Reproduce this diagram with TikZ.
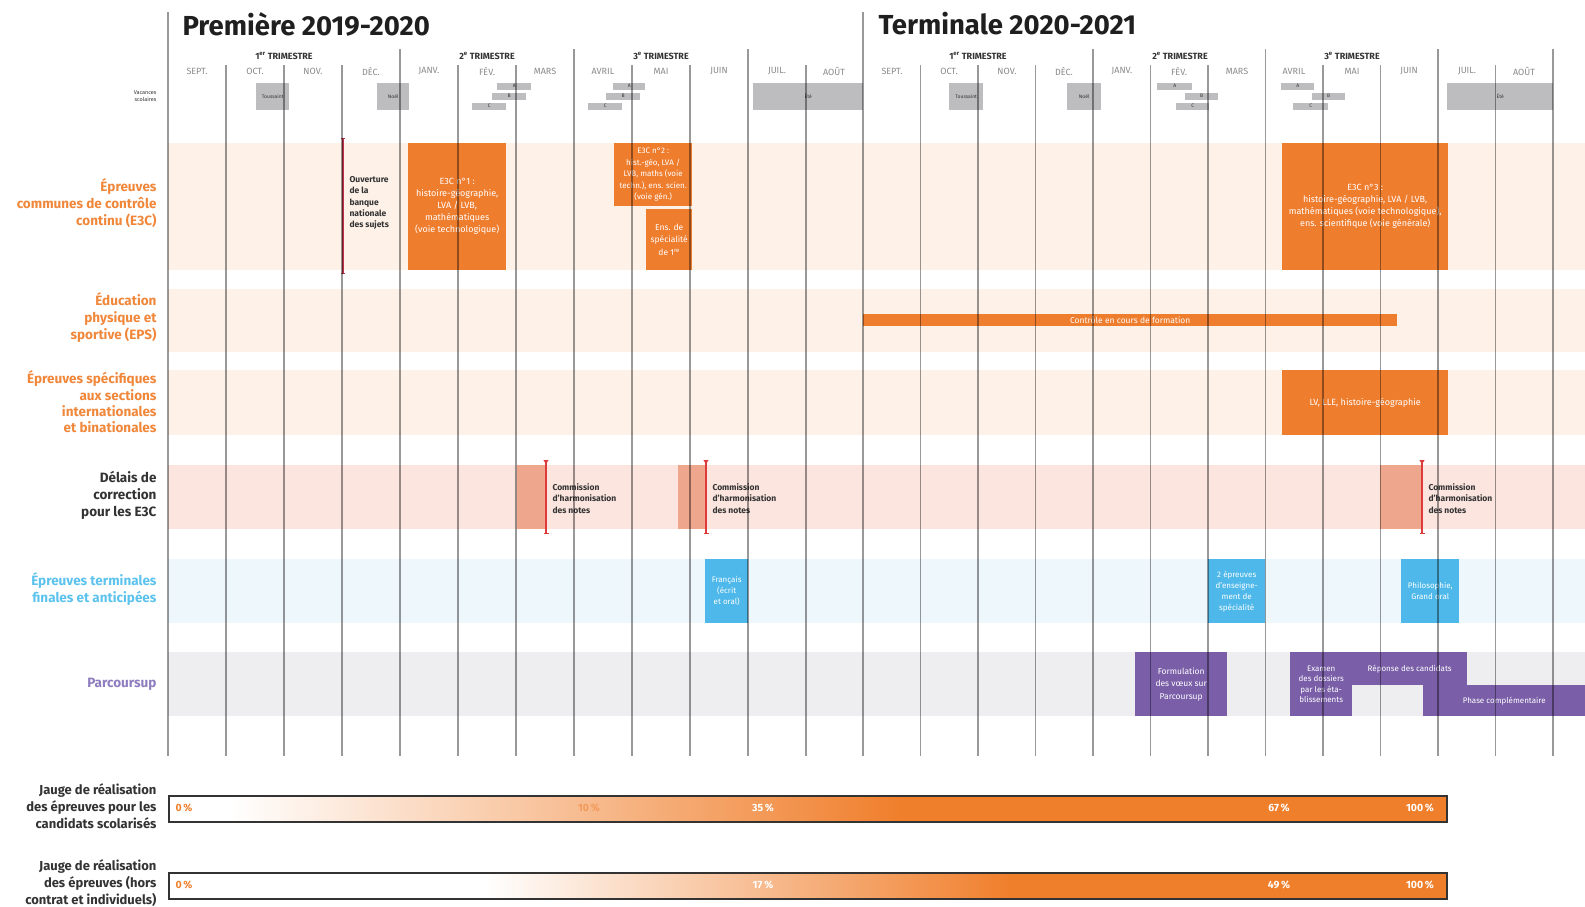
\documentclass[tikz,border=0pt]{standalone}
\usepackage{fontspec}
\setmainfont{Fira Sans}
\usetikzlibrary{arrows.meta}
\definecolor{orng}{HTML}{EF7D2E}
\definecolor{orlab}{HTML}{F0873A}
\definecolor{peach}{HTML}{FDF1E8}
\definecolor{salmonband}{HTML}{FBE5DE}
\definecolor{salmon}{HTML}{EEA68D}
\definecolor{blueband}{HTML}{EEF7FC}
\definecolor{bluebox}{HTML}{4DB8E9}
\definecolor{bluelab}{HTML}{5CC3EE}
\definecolor{grayband}{HTML}{EEEEF1}
\definecolor{purp}{HTML}{7A5FA8}
\definecolor{purplab}{HTML}{8E7DBF}
\definecolor{vacgray}{HTML}{BDBDC0}
\definecolor{redl}{HTML}{DD3B3B}
\definecolor{redd}{HTML}{B83349}
\definecolor{darktxt}{HTML}{333333}
\definecolor{monthgray}{HTML}{8A8A8A}
\definecolor{gaugeor}{HTML}{F07F2C}
\definecolor{gaugelt}{HTML}{F39A5A}
\begin{document}
\begin{tikzpicture}[x=1pt,y=-1pt,
  vline/.style={draw=black,opacity=0.4,line width=1.3pt},
  rowlab/.style={anchor=east,align=right,font=\bfseries\fontsize{13.5}{17}\selectfont},
  title/.style={anchor=west,text=black!88,font=\bfseries\fontsize{27.5}{30}\selectfont},
  trim/.style={text=darktxt,font=\bfseries\fontsize{9}{10}\selectfont},
  month/.style={text=monthgray,font=\fontsize{9}{10}\selectfont},
  vac/.style={fill=vacgray,inner sep=0pt,anchor=north west,text=darktxt,font=\fontsize{5}{6}\selectfont},
  abox/.style={inner sep=0pt,anchor=north west,align=center,text=white,font=\fontsize{9}{12}\selectfont},
  obox/.style={abox,fill=orng},
  bbox/.style={abox,fill=bluebox,font=\fontsize{8}{11}\selectfont},
  pbox/.style={abox,fill=purp,font=\fontsize{8}{10.5}\selectfont},
  note/.style={anchor=west,align=left,text=darktxt,font=\bfseries\fontsize{8.5}{11.2}\selectfont},
  pct/.style={text=white,font=\bfseries\fontsize{10.5}{12}\selectfont},
  gauge/.style={draw=black!80,line width=1.8pt,inner sep=0pt,anchor=north west,minimum width=1278pt,minimum height=26pt}
]
\useasboundingbox (0,0) rectangle (1585,906);
\fill[white] (0,0) rectangle (1585,906);

% bands
\fill[peach] (168,143) rectangle (1585,270);
\fill[peach] (168,289) rectangle (1585,352);
\fill[peach] (168,370) rectangle (1585,435);
\fill[salmonband] (168,465) rectangle (1585,529);
\fill[blueband] (168,559) rectangle (1585,623);
\fill[grayband] (168,652) rectangle (1585,716);

% titles
\node[title] (t1) at (179,24) {Première 2019-2020};
\node[title] (t2) at (875,24) {Terminale 2020-2021};

% trimesters
\node[trim] (tr1) at (284,56) {1\textsuperscript{er} TRIMESTRE};
\node[trim] (tr2) at (487,56) {2\textsuperscript{e} TRIMESTRE};
\node[trim] (tr3) at (661,56) {3\textsuperscript{e} TRIMESTRE};
\node[trim] (tr4) at (978,56) {1\textsuperscript{er} TRIMESTRE};
\node[trim] (tr5) at (1180,56) {2\textsuperscript{e} TRIMESTRE};
\node[trim] (tr6) at (1352,56) {3\textsuperscript{e} TRIMESTRE};

% months
\foreach \x/\m [count=\i] in {197/SEPT., 255/OCT., 313/NOV., 371/DÉC., 429/JANV., 487/FÉV., 545/MARS, 603/AVRIL, 661/MAI, 719/JUIN, 777/JUIL., 834/AOÛT}
  \node[month] (ma\i) at (\x,71) {\m};
\foreach \x/\m [count=\i] in {892/SEPT., 949/OCT., 1007/NOV., 1064/DÉC., 1122/JANV., 1179/FÉV., 1237/MARS, 1294/AVRIL, 1352/MAI, 1409/JUIN, 1467/JUIL., 1524/AOÛT}
  \node[month] (mb\i) at (\x,71) {\m};

% vacations
\node[anchor=east,align=right,text=darktxt,font=\fontsize{5.5}{7}\selectfont] (vaclab) at (160,96) {Vacances\\scolaires};
\node[vac,minimum width=33pt,minimum height=27pt] (tous1) at (256,83) {Toussaint};
\node[vac,minimum width=32pt,minimum height=27pt] (noel1) at (377,83) {Noël};
\node[vac,minimum width=34pt,minimum height=7pt] (hA1) at (497,82.5) {A};
\node[vac,minimum width=34pt,minimum height=7pt] (hB1) at (492,92.5) {B};
\node[vac,minimum width=34pt,minimum height=7pt] (hC1) at (472,102.5) {C};
\node[vac,minimum width=32pt,minimum height=7pt] (pA1) at (613,82.5) {A};
\node[vac,minimum width=34pt,minimum height=7pt] (pB1) at (606,92.5) {B};
\node[vac,minimum width=34pt,minimum height=7pt] (pC1) at (588,102.5) {C};
\node[vac,minimum width=110pt,minimum height=27pt] (ete1) at (753,83) {Été};
\node[vac,minimum width=34pt,minimum height=27pt] (tous2) at (949,83) {Toussaint};
\node[vac,minimum width=34pt,minimum height=27pt] (noel2) at (1067,83) {Noël};
\node[vac,minimum width=35pt,minimum height=7pt] (hA2) at (1157,82.5) {A};
\node[vac,minimum width=33pt,minimum height=7pt] (hB2) at (1185,92.5) {B};
\node[vac,minimum width=33pt,minimum height=7pt] (hC2) at (1176,102.5) {C};
\node[vac,minimum width=33pt,minimum height=7pt] (pA2) at (1281,82.5) {A};
\node[vac,minimum width=33pt,minimum height=7pt] (pB2) at (1312,92.5) {B};
\node[vac,minimum width=35pt,minimum height=7pt] (pC2) at (1293,102.5) {C};
\node[vac,minimum width=106pt,minimum height=27pt] (ete2) at (1447,83) {Été};

% row labels
\node[rowlab,text=orlab] (le3c) at (160,203) {Épreuves\\communes de contrôle\\continu (E3C)};
\node[rowlab,text=orlab] (leps) at (160,318) {Éducation\\physique et\\sportive (EPS)};
\node[rowlab,text=orlab,font=\bfseries\fontsize{13.5}{16.3}\selectfont] (lsec) at (160,402) {Épreuves spécifiques\\aux sections\\internationales\\et binationales};
\node[rowlab,text=darktxt] (ldel) at (160,495) {Délais de\\correction\\pour les E3C};
\node[rowlab,text=bluelab] (lter) at (160,589) {Épreuves terminales\\finales et anticipées};
\node[rowlab,text=purplab] (lpar) at (160,684) {Parcoursup};

% E3C
\coordinate (ouvT) at (343,138);
\coordinate (ouvB) at (343,274);
\draw[redd,line width=1.2pt,{Bar[width=4pt]}-{Bar[width=4pt]}] (ouvT) -- (ouvB);
\node[note] (ouv) at (346,203) {Ouverture\\de la\\banque\\nationale\\des sujets};
\node[obox,minimum width=98pt,minimum height=127pt] (e3c1) at (408,143) {E3C n°1 :\\histoire-géographie,\\LVA / LVB,\\mathématiques\\(voie technologique)};
\node[obox,minimum width=78pt,minimum height=63pt,font=\fontsize{8}{11.5}\selectfont] (e3c2) at (614,143) {E3C n°2 :\\hist.-géo, LVA /\\LVB, maths (voie\\techn.), ens. scien.\\(voie gén.)};
\node[obox,minimum width=46pt,minimum height=61pt,font=\fontsize{8.5}{12.5}\selectfont] (spe1) at (646,209) {Ens. de\\spécialité\\de 1\textsuperscript{re}};
\node[obox,minimum width=166pt,minimum height=127pt] (e3c3) at (1282,143) {E3C n°3 :\\histoire-géographie, LVA / LVB,\\mathématiques (voie technologique),\\ens. scientifique (voie générale)};

% EPS
\node[obox,minimum width=534pt,minimum height=12.5pt,font=\fontsize{8.5}{10}\selectfont] (eps) at (863,313.5) {Contrôle en cours de formation};

% sections
\node[obox,minimum width=166pt,minimum height=65pt] (sec) at (1282,370) {LV, LLE, histoire-géographie};

% delais
\fill[salmon] (517,465) rectangle (546,529);
\fill[salmon] (678,465) rectangle (706,529);
\fill[salmon] (1380,465) rectangle (1422,529);
\coordinate (d1T) at (546,460); \coordinate (d1B) at (546,534);
\coordinate (d2T) at (706,460); \coordinate (d2B) at (706,534);
\coordinate (d3T) at (1422,460); \coordinate (d3B) at (1422,534);
\foreach \a/\b in {d1T/d1B,d2T/d2B,d3T/d3B}
  \draw[redl,line width=1.3pt,{Triangle[reversed,width=5pt,length=4pt]}-{Bar[width=5pt]}] (\a) -- (\b);
\node[note] (com1) at (549,498.5) {Commission\\d'harmonisation\\des notes};
\node[note] (com2) at (709,498.5) {Commission\\d'harmonisation\\des notes};
\node[note] (com3) at (1425,498.5) {Commission\\d'harmonisation\\des notes};

% epreuves terminales
\node[bbox,minimum width=43pt,minimum height=64pt] (fr) at (705,559) {Français\\(écrit\\et oral)};
\node[bbox,minimum width=57pt,minimum height=64pt] (spe2) at (1208,559) {2 épreuves\\d'enseigne-\\ment de\\spécialité};
\node[bbox,minimum width=58pt,minimum height=64pt] (philo) at (1401,559) {Philosophie,\\Grand oral};

% parcoursup
\node[pbox,minimum width=92pt,minimum height=64pt,font=\fontsize{8.5}{12.5}\selectfont] (form) at (1135,652) {Formulation\\des vœux sur\\Parcoursup};
\node[pbox,minimum width=62pt,minimum height=64pt] (exam) at (1290,652) {Examen\\des dossiers\\par les éta-\\blissements};
\node[pbox,minimum width=115pt,minimum height=33pt] (rep) at (1352,652) {Réponse des candidats};
\node[pbox,minimum width=162pt,minimum height=31pt] (phase) at (1423,685) {Phase complémentaire};

% vertical lines
\foreach \x in {168,863}
  \draw[vline] (\x,12) -- (\x,756);
\foreach \x in {400,574,748,1093,1265.5,1438,1553}
  \draw[vline] (\x,49) -- (\x,756);
\foreach \x in {226,284,342,458,516,632,690,806,920.5,978,1035.5,1150.5,1208,1323,1380.5,1495.5}
  \draw[vline] (\x,65) -- (\x,756);

% gauges
\node[rowlab,text=darktxt,font=\bfseries\fontsize{13}{17}\selectfont] (lg1) at (160,806) {Jauge de réalisation\\des épreuves pour les\\candidats scolarisés};
\node[rowlab,text=darktxt,font=\bfseries\fontsize{13}{17}\selectfont] (lg2) at (160,883) {Jauge de réalisation\\des épreuves (hors\\contrat et individuels)};

\shade[left color=white,right color=gaugeor] (230,795) rectangle (900,821);
\fill[gaugeor] (900,795) rectangle (1446,821);
\node[gauge] (g1) at (168,795) {};
\node[pct,text=gaugeor,anchor=west] (g1a) at (172,808) {0\,\%};
\node[pct,text=gaugelt] (g1b) at (589,808) {10\,\%};
\node[pct] (g1c) at (763,808) {35\,\%};
\node[pct] (g1d) at (1279,808) {67\,\%};
\node[pct] (g1e) at (1420,808) {100\,\%};

\shade[left color=white,right color=gaugeor] (485,872) rectangle (1010,898);
\fill[gaugeor] (1010,872) rectangle (1446,898);
\node[gauge] (g2) at (168,872) {};
\node[pct,text=gaugeor,anchor=west] (g2a) at (172,885) {0\,\%};
\node[pct] (g2b) at (763,885) {17\,\%};
\node[pct] (g2c) at (1279,885) {49\,\%};
\node[pct] (g2d) at (1420,885) {100\,\%};
\end{tikzpicture}
\end{document}
